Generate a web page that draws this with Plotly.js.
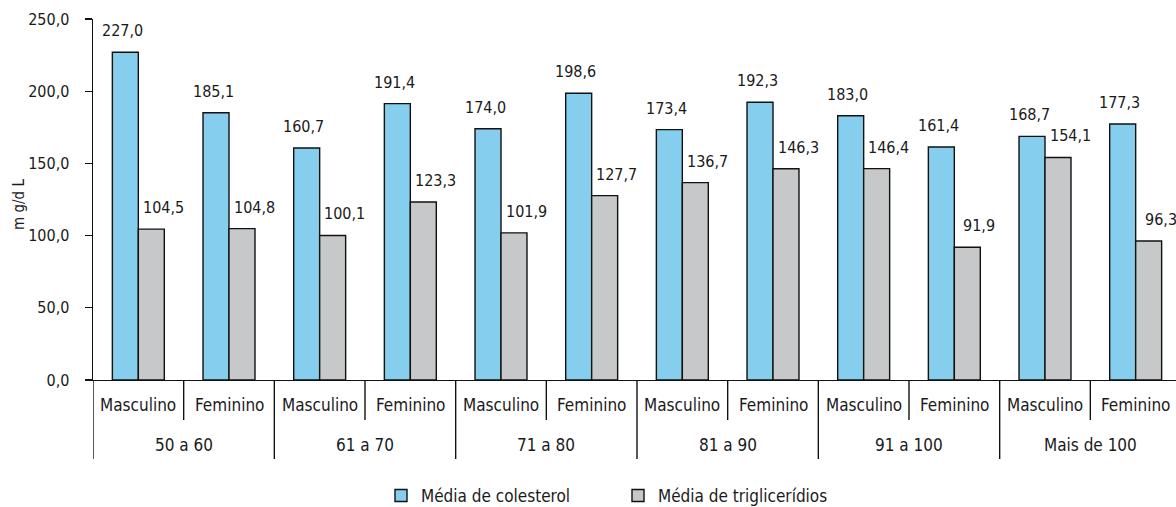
<!DOCTYPE html>
<html>
<head>
<meta charset="utf-8">
<script src="https://cdn.plot.ly/plotly-3.0.1.min.js"></script>
<style>
  html, body { margin: 0; padding: 0; overflow: hidden; background: #fff; }
  #chart { width: 1190px; height: 507px; }
</style>
</head>
<body>
<div id="chart"></div>
<script>
// Age groups and sexes (two-level x axis)
const groups = ['50 a 60', '61 a 70', '71 a 80', '81 a 90', '91 a 100', 'Mais de 100'];
const sexes = ['Masculino', 'Feminino'];

// Mean values (mg/dL), one per group × sex, in axis order
const colesterol = [227.0, 185.1, 160.7, 191.4, 174.0, 198.6, 173.4, 192.3, 183.0, 161.4, 168.7, 177.3];
const triglicerides = [104.5, 104.8, 100.1, 123.3, 101.9, 127.7, 136.7, 146.3, 146.4, 91.9, 154.1, 96.3];

// Y axis ticks
const yTicks = [0, 50, 100, 150, 200, 250];

const seriesNames = ['Média de colesterol', 'Média de triglicerídios'];
const yTitle = 'm g/d L';

const FONT = '"DejaVu Sans Condensed", "Liberation Sans Narrow", "Arial Narrow", Arial, sans-serif';
const TXT = '#1a1a1a';
const NUM_SIZE = 16;
const WORD_SIZE = 17;

// Category keys for the x axis: one per group/sex pair
const cats = [];
const catSex = [];
groups.forEach(g => sexes.forEach(s => { cats.push(g + ' · ' + s); catSex.push(s); }));

const fmt = v => v.toFixed(1).replace('.', ',');

const traces = [
  {
    type: 'bar', name: seriesNames[0], x: cats, y: colesterol,
    marker: { color: '#86CEEE', line: { color: '#111', width: 1.4 } },
    hoverinfo: 'skip'
  },
  {
    type: 'bar', name: seriesNames[1], x: cats, y: triglicerides,
    marker: { color: '#C7C8CA', line: { color: '#111', width: 1.4 } },
    hoverinfo: 'skip'
  }
];

// Plot geometry (px) used to express offsets outside the plot in paper units
const plotW = 1088;
const plotH = 361;
const px = p => -p / plotH;

const annotations = [];
cats.forEach((c, i) => {
  // Value labels above each bar
  annotations.push({
    x: i, y: colesterol[i], xref: 'x', yref: 'y', text: fmt(colesterol[i]),
    showarrow: false, xanchor: 'center', yanchor: 'bottom', xshift: -16, yshift: 10,
    font: { family: FONT, size: NUM_SIZE, color: TXT }
  });
  annotations.push({
    x: i, y: triglicerides[i], xref: 'x', yref: 'y', text: fmt(triglicerides[i]),
    showarrow: false, xanchor: 'center', yanchor: 'bottom', xshift: 25, yshift: 10,
    font: { family: FONT, size: NUM_SIZE, color: TXT }
  });
  // Sex label (first level of the x axis)
  annotations.push({
    x: i, y: px(25), xref: 'x', yref: 'paper', text: catSex[i],
    showarrow: false, xanchor: 'center', yanchor: 'middle',
    font: { family: FONT, size: WORD_SIZE, color: TXT }
  });
});
// Age-group labels (second level of the x axis)
groups.forEach((g, k) => {
  annotations.push({
    x: k * sexes.length + (sexes.length - 1) / 2, y: px(65), xref: 'x', yref: 'paper', text: g,
    showarrow: false, xanchor: 'center', yanchor: 'middle',
    font: { family: FONT, size: WORD_SIZE, color: TXT }
  });
});
// Y axis title
annotations.push({
  x: -74 / plotW, y: (380 - 205) / plotH, xref: 'paper', yref: 'paper', text: yTitle,
  textangle: -90, showarrow: false, xanchor: 'center', yanchor: 'middle',
  font: { family: FONT, size: 15, color: TXT }
});

// Dividers of the two-level x axis
const shapes = [];
for (let b = 0; b <= cats.length; b++) {
  const isGroupEdge = b % sexes.length === 0;
  shapes.push({
    type: 'line', xref: 'x', yref: 'paper',
    x0: b - 0.5, x1: b - 0.5, y0: 0, y1: isGroupEdge ? px(79) : px(40),
    line: { color: '#111', width: 1.4 }
  });
}

const layout = {
  width: 1190, height: 507,
  margin: { l: 93, r: 9, t: 19, b: 127, autoexpand: false },
  paper_bgcolor: '#fff', plot_bgcolor: '#fff',
  separators: ',.',
  barmode: 'group', bargap: 0.427, bargroupgap: 0,
  font: { family: FONT, size: WORD_SIZE, color: TXT },
  showlegend: true,
  legend: {
    orientation: 'h', x: (618 - 93) / plotW, xanchor: 'center',
    y: px(116), yanchor: 'middle',
    font: { family: FONT, size: WORD_SIZE, color: TXT },
    entrywidth: 192, itemwidth: 30, traceorder: 'normal'
  },
  xaxis: {
    type: 'category', range: [-0.5, cats.length - 0.5],
    showticklabels: false, ticks: '', showgrid: false, zeroline: false,
    showline: true, linecolor: '#111', linewidth: 1.4, fixedrange: true
  },
  yaxis: {
    range: [0, 250], tickvals: yTicks, tickformat: '.1f',
    ticks: 'outside', ticklen: 7, tickwidth: 1.4, tickcolor: '#111',
    ticklabelstandoff: 12,
    showline: true, linecolor: '#111', linewidth: 1.4,
    showgrid: false, zeroline: false, fixedrange: true,
    tickfont: { family: FONT, size: NUM_SIZE, color: TXT }
  },
  annotations, shapes
};

Plotly.newPlot('chart', traces, layout, { displayModeBar: false, staticPlot: true });
</script>
</body>
</html>
